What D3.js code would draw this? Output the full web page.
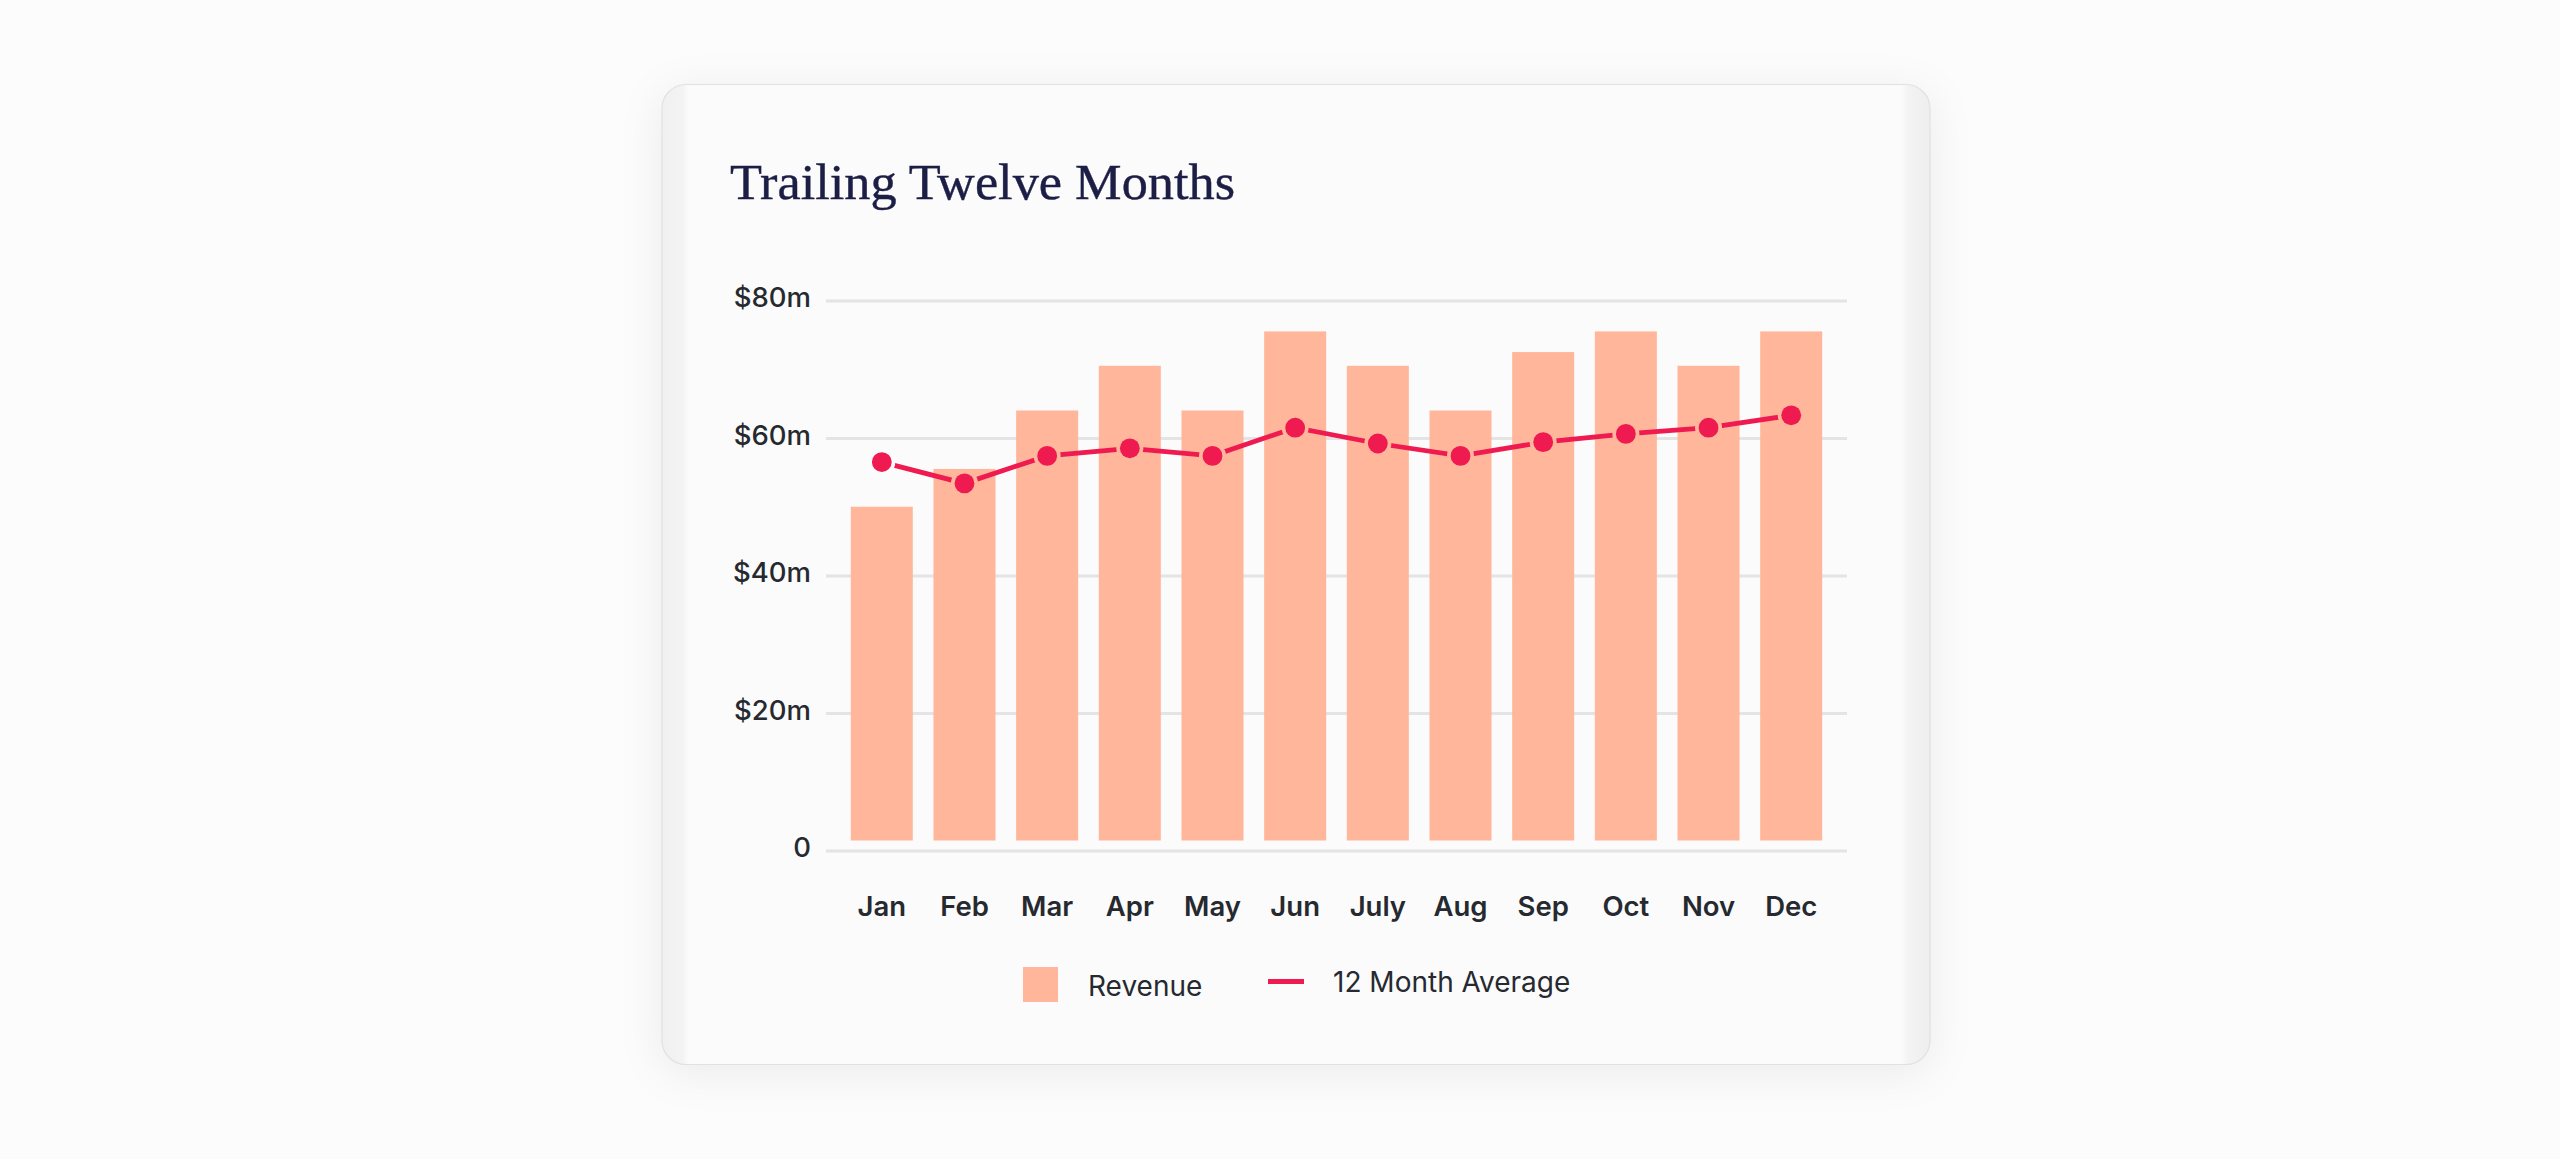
<!DOCTYPE html>
<html>
<head>
<meta charset="utf-8">
<script src="https://cdn.jsdelivr.net/npm/d3@7/dist/d3.min.js"></script>
<style>
  html, body { margin: 0; padding: 0; background: #fcfcfc; }
  svg { display: block; }
</style>
</head>
<body>
<svg id="chart" width="2560" height="1159"></svg>
<script>
// ---- Data ----
const months = ["Jan","Feb","Mar","Apr","May","Jun","July","Aug","Sep","Oct","Nov","Dec"];
const revenue = [50, 55.5, 64, 70.5, 64, 75.5, 70.5, 64, 72.5, 75.5, 70.5, 75.5];
const average = [56.5, 53.4, 57.4, 58.5, 57.4, 61.5, 59.2, 57.4, 59.4, 60.6, 61.5, 63.3];
const yTicks = [0, 20, 40, 60, 80];
const yTickLabels = ["0", "$20m", "$40m", "$60m", "$80m"];
const titleText = "Trailing Twelve Months";
const legendLabels = ["Revenue", "12 Month Average"];

const C = {
  bar: "#FFB69B",
  line: "#EE1A50",
  grid: "#E4E4E4",
  text: "#262A30",
  title: "#1C1E46",
  card: "#FBFBFB"
};

const svg = d3.select("#chart");
const defs = svg.append("defs");

// card geometry
const card = { x: 662, y: 84.5, w: 1268, h: 980, r: 24 };

const shadow = defs.append("filter").attr("id", "shadow")
  .attr("x", "-20%").attr("y", "-20%").attr("width", "140%").attr("height", "140%");
shadow.append("feDropShadow").attr("dx", 0).attr("dy", 8)
  .attr("stdDeviation", 22).attr("flood-color", "#000").attr("flood-opacity", 0.07);

defs.append("clipPath").attr("id", "cardClip")
  .append("rect").attr("x", card.x).attr("y", card.y).attr("width", card.w)
  .attr("height", card.h).attr("rx", card.r);

const gl = defs.append("linearGradient").attr("id", "leftBand").attr("x1", "0").attr("x2", "1");
gl.append("stop").attr("offset", "0").attr("stop-color", "#F0F0F0");
gl.append("stop").attr("offset", "0.75").attr("stop-color", "#F3F3F3");
gl.append("stop").attr("offset", "1").attr("stop-color", C.card);
const gr = defs.append("linearGradient").attr("id", "rightBand").attr("x1", "0").attr("x2", "1");
gr.append("stop").attr("offset", "0").attr("stop-color", C.card);
gr.append("stop").attr("offset", "0.25").attr("stop-color", "#F3F3F3");
gr.append("stop").attr("offset", "1").attr("stop-color", "#EEEEEE");

svg.append("rect").attr("x", card.x).attr("y", card.y).attr("width", card.w)
  .attr("height", card.h).attr("rx", card.r).attr("fill", C.card)
  .attr("filter", "url(#shadow)");

const bands = svg.append("g").attr("clip-path", "url(#cardClip)");
bands.append("rect").attr("x", card.x).attr("y", card.y).attr("width", 27)
  .attr("height", card.h).attr("fill", "url(#leftBand)");
bands.append("rect").attr("x", card.x + card.w - 29).attr("y", card.y).attr("width", 29)
  .attr("height", card.h).attr("fill", "url(#rightBand)");

svg.append("rect").attr("x", card.x).attr("y", card.y).attr("width", card.w)
  .attr("height", card.h).attr("rx", card.r).attr("fill", "none")
  .attr("stroke", "#E1E1E1").attr("stroke-width", 1.2);

// ---- Title ----
svg.append("text")
  .attr("x", 730).attr("y", 198.5)
  .attr("font-family", "'Liberation Serif', 'DejaVu Serif', serif")
  .attr("font-size", 51.5)
  .attr("fill", C.title)
  .attr("stroke", C.title).attr("stroke-width", 0.4)
  .attr("textLength", 505).attr("lengthAdjust", "spacingAndGlyphs")
  .text(titleText);

// ---- Scales ----
const plot = { left: 826, right: 1847, top: 300.5, bottom: 850.5 };
const x = d3.scaleBand().domain(months).range([plot.left, plot.right])
  .paddingInner(0.25).paddingOuter(0.3);
const y = d3.scaleLinear().domain([0, 80]).range([plot.bottom, plot.top]);

// ---- Y axis / grid ----
const yAxis = d3.axisLeft(y)
  .tickValues(yTicks)
  .tickFormat((d, i) => yTickLabels[i])
  .tickSize(-(plot.right - plot.left))
  .tickPadding(15);
const gy = svg.append("g").attr("transform", `translate(${plot.left},0)`).call(yAxis);
gy.select(".domain").remove();
gy.selectAll(".tick line").attr("stroke", C.grid).attr("stroke-width", 3);
gy.selectAll(".tick text")
  .attr("font-family", "Inter, 'Noto Sans', sans-serif")
  .attr("font-size", 27.5).attr("font-weight", 500)
  .attr("fill", C.text).attr("dy", "0.22em");

// ---- Bars ----
const barGap = 10;
svg.append("g").selectAll("rect").data(months).join("rect")
  .attr("x", d => x(d))
  .attr("width", x.bandwidth())
  .attr("y", (d, i) => y(revenue[i]))
  .attr("height", (d, i) => y(0) - barGap - y(revenue[i]))
  .attr("fill", C.bar);

// ---- X axis labels ----
const xAxis = d3.axisBottom(x).tickSize(0).tickPadding(46);
const gx = svg.append("g").attr("transform", `translate(0,${plot.bottom})`).call(xAxis);
gx.select(".domain").remove();
gx.selectAll(".tick text")
  .attr("font-family", "Inter, 'Noto Sans', sans-serif")
  .attr("font-size", 27.5).attr("font-weight", 600)
  .attr("fill", C.text);

// ---- Average line ----
const pts = months.map((m, i) => ({ m, v: average[i] }));
const cx = d => x(d.m) + x.bandwidth() / 2;
const mask = defs.append("mask").attr("id", "lineMask").attr("maskUnits", "userSpaceOnUse")
  .attr("x", 0).attr("y", 0).attr("width", 2560).attr("height", 1159);
mask.append("rect").attr("width", 2560).attr("height", 1159).attr("fill", "#fff");
mask.selectAll("circle").data(pts).join("circle")
  .attr("cx", cx).attr("cy", d => y(d.v)).attr("r", 13.5).attr("fill", "#000");

const line = d3.line().x(cx).y(d => y(d.v));
svg.append("path").datum(pts)
  .attr("d", line)
  .attr("fill", "none")
  .attr("stroke", C.line)
  .attr("stroke-width", 4.8)
  .attr("mask", "url(#lineMask)");

svg.append("g").selectAll("circle").data(pts).join("circle")
  .attr("cx", cx).attr("cy", d => y(d.v)).attr("r", 9.9)
  .attr("fill", C.line);

// ---- Legend ----
const lg = svg.append("g");
lg.append("rect").attr("x", 1023).attr("y", 967).attr("width", 35).attr("height", 35)
  .attr("fill", C.bar);
lg.append("text").attr("x", 1088).attr("y", 995.5)
  .attr("font-family", "Inter, 'Noto Sans', sans-serif")
  .attr("font-size", 28).attr("fill", C.text).text(legendLabels[0]);
lg.append("line").attr("x1", 1268).attr("x2", 1304).attr("y1", 981.5).attr("y2", 981.5)
  .attr("stroke", C.line).attr("stroke-width", 5);
lg.append("text").attr("x", 1333).attr("y", 992)
  .attr("font-family", "Inter, 'Noto Sans', sans-serif")
  .attr("font-size", 28).attr("fill", C.text).text(legendLabels[1]);
</script>
</body>
</html>
